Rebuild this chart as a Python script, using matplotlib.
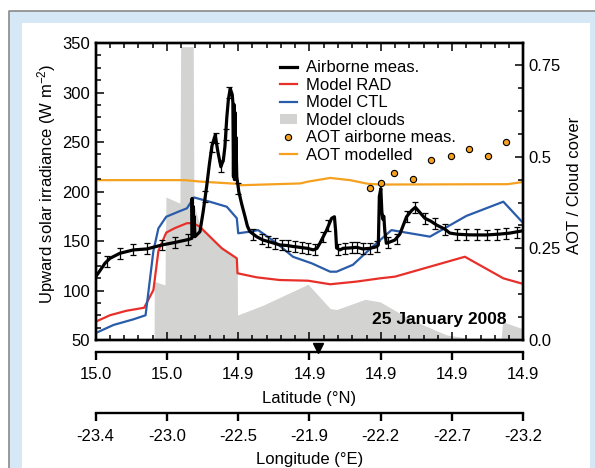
import matplotlib
matplotlib.use("Agg")
import matplotlib.pyplot as plt
import matplotlib.transforms as mtransforms
from matplotlib.patches import Rectangle, Patch
from matplotlib.lines import Line2D
from matplotlib.ticker import MultipleLocator

plt.rcParams['font.family'] = ['Liberation Sans', 'DejaVu Sans']
plt.rcParams['font.size'] = 12
plt.rcParams['mathtext.default'] = 'regular'

# x is measured in latitude-tick steps (0 .. 6)
lat_labels = ['15.0', '15.0', '14.9', '14.9', '14.9', '14.9', '14.9']
lon_labels = ['-23.4', '-23.0', '-22.5', '-21.9', '-22.2', '-22.7', '-23.2']

# airborne measurement (W m-2)
meas_x = [0.0, 0.06, 0.13, 0.2, 0.34, 0.53, 0.72, 0.93, 1.11, 1.30, 1.35, 1.353, 1.36, 1.367,
          1.374, 1.381, 1.393, 1.463, 1.509, 1.557, 1.596, 1.631, 1.677, 1.715, 1.757, 1.792,
          1.813, 1.84, 1.862, 1.888, 1.916, 1.925, 1.933, 1.94, 1.947, 1.954, 1.96, 1.967,
          1.98, 2.008, 2.05, 2.094, 2.129, 2.164, 2.258, 2.346, 2.445, 2.585, 2.679, 2.767,
          2.865, 2.978, 3.052, 3.104, 3.146, 3.24, 3.31, 3.35, 3.367, 3.38, 3.426, 3.473,
          3.567, 3.66, 3.749, 3.847, 3.941, 3.966, 3.98, 4.001, 4.015, 4.029, 4.043, 4.057,
          4.078, 4.128, 4.198, 4.268, 4.362, 4.436, 4.485, 4.534, 4.619, 4.703, 4.787, 4.899,
          4.969, 5.081, 5.25, 5.484, 5.67, 5.811, 6.0]
meas_y = [114, 120, 127.5, 132.5, 137.6, 141, 142, 146, 148.5, 151.5, 152.7, 193, 155, 185,
          156, 175, 154.4, 159.4, 180, 205, 228, 246, 257, 240, 225, 232,
          245, 275, 293, 304, 298, 290, 215, 288, 212, 280, 215, 255,
          215, 200, 187, 175, 165, 159.5, 154.4, 151, 149, 146, 145.5, 144.5,
          143.6, 142.5, 141, 142.5, 147.7, 161, 172.9, 174.5, 160, 143, 141, 142.6,
          143, 143.6, 142, 142.6, 144.2, 146, 195, 203, 180, 172, 175, 160,
          147.7, 149, 151, 157, 174.5, 181, 184, 180, 173, 170, 166, 162,
          158, 156.8, 156.2, 156.1, 157, 158, 160.4]

# where the error bars sit
err_x = [0.154, 0.341, 0.527, 0.715, 0.926, 1.112, 1.299, 1.533, 1.627, 1.687, 1.757, 1.827,
         1.877, 2.0, 2.21, 2.328, 2.421, 2.515, 2.609, 2.701, 2.795, 2.889, 2.982, 3.076,
         3.188, 3.262, 3.403, 3.497, 3.59, 3.661, 3.753, 3.847, 3.941, 4.104, 4.222, 4.362,
         4.478, 4.619, 4.759, 4.899, 5.063, 5.194, 5.344, 5.484, 5.624, 5.764, 5.905]
err_y = [129, 137.6, 141, 142, 146, 148.5, 151.5, 195, 245, 254, 225, 258,
         300, 203, 157, 152, 149.5, 147.5, 146, 145.3, 144.3, 143.4, 142.5, 141.5,
         154, 166, 141.5, 142.6, 143, 143.6, 142, 142.6, 144.2, 148.5, 152, 174.5,
         184, 173, 168, 162, 157, 156.5, 156.2, 156.1, 156.7, 157.7, 159]
err_size = 5.5

# model RAD
rad_x = [0, 0.2, 0.43, 0.68, 0.81, 0.88, 0.99, 1.11, 1.28, 1.37, 1.46, 1.77, 1.98, 1.99,
         2.26, 2.58, 2.98, 3.29, 3.66, 3.99, 4.2, 5.18, 5.72, 6.0]
rad_y = [68.5, 75, 79.5, 82.6, 100.5, 140, 158.5, 163, 168, 168, 164.5, 142.6, 132.5, 117.4,
         113.3, 110.6, 109.9, 106.3, 109, 112.3, 114, 134.1, 112.3, 106.6]

# model CTL
ctl_x = [0, 0.25, 0.53, 0.70, 0.81, 0.88, 0.99, 1.16, 1.28, 1.38, 1.60, 1.84, 1.98, 2.0,
         2.16, 2.28, 2.54, 2.77, 3.03, 3.29, 3.38, 3.61, 3.85, 4.15, 4.69, 5.20, 5.72, 6.0]
ctl_y = [57, 65.2, 70.9, 75, 140, 162.8, 174.5, 179.6, 183, 194, 189.7, 184.6, 173, 157.8,
         159.4, 161, 147.7, 134, 127.5, 119, 119, 126, 142, 161, 154.4, 175.3, 189.7, 168]

# model cloud cover (right axis)
cloud_x = [0.82, 0.822, 0.972, 0.986, 1.182, 1.192, 1.369, 1.379, 1.463, 1.645, 1.986, 1.99,
           2.35, 2.98, 3.29, 3.38, 3.78, 3.99, 4.43, 4.92, 5.22, 5.69, 5.71, 6.0]
cloud_y = [0, 0.16, 0.15, 0.39, 0.373, 0.80, 0.80, 0.37, 0.31, 0.273, 0.223, 0.068,
           0.095, 0.152, 0.086, 0.083, 0.111, 0.104, 0.055, 0.014, 0.005, 0.005, 0.05, 0.03]

# AOT (right axis)
aot_mod_x = [0, 1.0, 1.25, 1.47, 1.98, 2.02, 2.87, 2.98, 3.29, 3.57, 3.82, 4.0, 5.78, 6.0]
aot_mod_y = [0.436, 0.436, 0.436, 0.432, 0.426, 0.422, 0.427, 0.432, 0.442, 0.436, 0.426,
             0.424, 0.425, 0.431]
aot_x = [3.85, 4.0, 4.19, 4.45, 4.71, 4.98, 5.24, 5.50, 5.76]
aot_y = [0.415, 0.429, 0.456, 0.439, 0.491, 0.503, 0.521, 0.502, 0.541]

RED = '#e8302b'
BLUE = '#2a5caa'
ORANGE = '#f5a11f'
GREY = '#d3d4d2'
SPW = 1.7

fig = plt.figure(figsize=(5.95, 4.68), dpi=100)
fig.patch.set_facecolor('white')

# framed light blue panel behind everything
fig.add_artist(Rectangle((0.0151, 0), 1, 0.9765, transform=fig.transFigure,
                         facecolor='#d6e8f5', edgecolor='none', zorder=-10))
fig.add_artist(Line2D([0.0151, 0.0151, 1], [0, 0.9765, 0.9765], transform=fig.transFigure,
                      color='#8a8a8a', lw=1.2, zorder=-9))
fig.add_artist(Rectangle((0.037, 0), 0.9546, 0.9509, transform=fig.transFigure,
                         facecolor='white', edgecolor='none', zorder=-8))

ax = fig.add_axes([0.1608, 0.2735, 0.7187, 0.6346])
ax2 = ax.twinx()
ax.set_zorder(ax2.get_zorder() + 1)
ax.patch.set_visible(False)

# right axis: clouds and AOT
ax2.fill_between(cloud_x, 0, cloud_y, color=GREY, linewidth=0)
ax2.plot(aot_mod_x, aot_mod_y, color=ORANGE, lw=1.6)
ax2.plot(aot_x, aot_y, 'o', ms=4.5, mfc=ORANGE, mec='black', mew=0.8)
ax2.set_ylim(0, 0.81)
ax2.set_yticks([0, 0.25, 0.5, 0.75])
ax2.set_yticklabels(['0.0', '0.25', '0.5', '0.75'])
ax2.yaxis.set_minor_locator(MultipleLocator(0.0625))
ax2.tick_params(axis='y', which='both', direction='in', width=1.1, pad=4)
ax2.tick_params(axis='y', which='major', length=6)
ax2.tick_params(axis='y', which='minor', length=3.5)
ax2.set_ylabel('AOT / Cloud cover')
ax2.yaxis.set_label_coords(1.102, 0.52)

# left axis: irradiance
ax.plot(rad_x, rad_y, color=RED, lw=1.6)
ax.plot(ctl_x, ctl_y, color=BLUE, lw=1.6)
ax.errorbar(err_x, err_y, yerr=err_size, fmt='none', ecolor='black', elinewidth=0.9,
            capsize=2.4, capthick=0.9)
ax.plot(meas_x, meas_y, color='black', lw=2.3)

ax.set_xlim(0, 6)
ax.set_ylim(50, 350)
ax.set_xticks(range(7))
ax.xaxis.set_minor_locator(MultipleLocator(0.2))
ax.set_yticks(range(50, 351, 50))
ax.yaxis.set_minor_locator(MultipleLocator(12.5))
ax.tick_params(axis='x', which='both', direction='in', top=True, bottom=True,
               labelbottom=False, width=1.1)
ax.tick_params(axis='y', which='both', direction='in', left=True, right=False, width=1.1, pad=4)
ax.tick_params(which='major', length=6)
ax.tick_params(which='minor', length=3.5)
ax.set_ylabel('Upward solar irradiance (W m$^{-2}$)')
ax.yaxis.set_label_coords(-0.088, 0.525)

for a in (ax, ax2):
    for s in a.spines.values():
        s.set_linewidth(SPW)

ax.text(0.961, 0.07, '25 January 2008', transform=ax.transAxes, ha='right', va='center',
        fontsize=12.5, fontweight='bold')

tr = mtransforms.blended_transform_factory(ax.transData, ax.transAxes)
ax.plot([3.12], [-0.026], marker='v', ms=6.5, color='black', transform=tr, clip_on=False)

handles = [Line2D([], [], color='black', lw=2.3),
           Line2D([], [], color=RED, lw=1.6),
           Line2D([], [], color=BLUE, lw=1.6),
           Patch(facecolor=GREY, edgecolor='none'),
           Line2D([], [], ls='none', marker='o', ms=4.5, mfc=ORANGE, mec='black', mew=0.8),
           Line2D([], [], color=ORANGE, lw=1.6)]
names = ['Airborne meas.', 'Model RAD', 'Model CTL', 'Model clouds',
         'AOT airborne meas.', 'AOT modelled']
ax.legend(handles, names, loc='upper left', bbox_to_anchor=(0.431, 0.942), frameon=False,
          borderpad=0, borderaxespad=0, handlelength=1.0, handletextpad=0.56,
          labelspacing=0.15, handleheight=0.55)


def extra_axis(bottom, labels, title):
    a = fig.add_axes([0.1608, bottom, 0.7187, 0.0001])
    for s in ('left', 'right', 'top'):
        a.spines[s].set_visible(False)
    a.spines['bottom'].set_linewidth(SPW)
    a.patch.set_visible(False)
    a.set_yticks([])
    a.set_xlim(0, 6)
    a.set_xticks(range(7))
    a.set_xticklabels(labels)
    a.tick_params(axis='x', direction='out', length=6, width=1.7, pad=5)
    a.set_xlabel(title, labelpad=6)
    return a


extra_axis(0.2479, lat_labels, 'Latitude (°N)')
extra_axis(0.1169, lon_labels, 'Longitude (°E)')

fig.savefig('out.png', dpi=100)
